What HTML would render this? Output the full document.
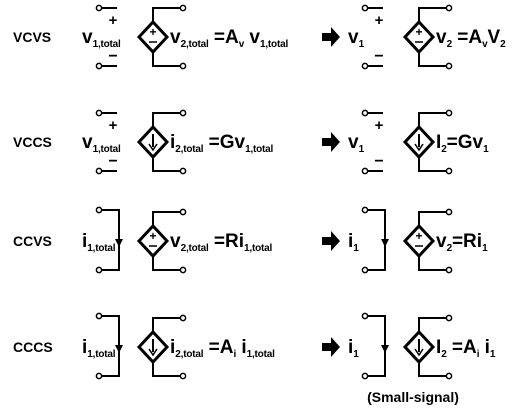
<!DOCTYPE html>
<html><head><meta charset="utf-8"><style>
body{margin:0;background:#fff}
svg{display:block;font-family:"Liberation Sans",Arial,sans-serif;font-weight:bold}
</style></head><body>
<svg id="s" width="528" height="410" viewBox="0 0 528 410"></svg>
<script>
const rowsY=[37,142,241,347];
const labels=['VCVS','VCCS','CCVS','CCCS'];
const ctrl=['v','v','i','i'];
const src=['v','i','v','i'];
const rightEq=[
 ['v','2',' =A','v','V','2'],
 ['I','2','=Gv','1','',''],
 ['v','2','=Ri','1','',''],
 ['I','2',' =A','i',' i','1']];
const leftEq=[
 ['v','2,total',' =A','v',' v','1,total'],
 ['i','2,total',' =Gv','1,total','',''],
 ['v','2,total',' =Ri','1,total','',''],
 ['i','2,total',' =A','i',' i','1,total']];
const s=document.getElementById('s');
const NS='http://www.w3.org/2000/svg';
function el(t,a,txt){const e=document.createElementNS(NS,t);for(const k in a)e.setAttribute(k,a[k]);if(txt!==undefined)e.textContent=txt;s.appendChild(e);return e;}
function line(d,name){const e=el('path',{d:d,stroke:'#000','stroke-width':2,fill:'none'});

}
function circ(x,y,name){const e=el('circle',{cx:x,cy:y,r:2.6,fill:'#fff',stroke:'#000','stroke-width':1.5});

}
function text(x,y,parts,name){
 const t=el('text',{x:x,y:y,'font-size':19});
 
 
 for(let i=0;i<parts.length;i++){if(!parts[i])continue;
  const sp=document.createElementNS(NS,'tspan');
  if(i%2){sp.setAttribute('font-size',10);sp.setAttribute('dy',4);sp.setAttribute('letter-spacing','-0.2');}else{sp.setAttribute('font-size',19);if(i>0)sp.setAttribute('dy',-4);}
  sp.textContent=parts[i];t.appendChild(sp);}
}
function diagram(ox,y,r,small){
 const cx=ox+153;
 if(ctrl[r]==='v'){
  circ(ox+99,y-29,'input-terminal-top');line(`M${ox+101.5} ${y-29}H${ox+117}`,'input-wire-top');
  circ(ox+99,y+29,'input-terminal-bottom');line(`M${ox+101.5} ${y+29}H${ox+117}`,'input-wire-bottom');
  const p=el('text',{x:ox+113,y:y-12,'font-size':15,'text-anchor':'middle'},'+');
  const m=el('text',{x:ox+113,y:y+24,'font-size':16,'text-anchor':'middle'},'\u2212');
 } else {
  circ(ox+99,y-31,'input-terminal-top');circ(ox+99,y+29,'input-terminal-bottom');
  line(`M${ox+101.5} ${y-31}H${ox+119}V${y+29}H${ox+101.5}`,'input-short-wire');
  const a=el('path',{d:`M${ox+115} ${y-2}L${ox+123} ${y-2}L${ox+119} ${y+6}Z`,fill:'#000'});
 }
 text(ox+82,y+6,small?[ctrl[r],'1']:[ctrl[r],'1,total'],'control-label');
 const d=el('path',{d:`M${cx} ${y-15}L${cx+14} ${y}L${cx} ${y+15}L${cx-14} ${y}Z`,fill:'#fff',stroke:'#000','stroke-width':3});
 
 line(`M${cx} ${y-15}V${y-29}H${ox+181}`,'output-wire-top');
 line(`M${cx} ${y+15}V${y+29}H${ox+181}`,'output-wire-bottom');
 circ(ox+183,y-29,'output-terminal-top');circ(ox+183,y+29,'output-terminal-bottom');
 if(src[r]==='v'){
  const p=el('text',{x:cx,y:y-1,'font-size':12,'text-anchor':'middle'},'+');
  const m=el('path',{d:`M${cx-4} ${y+5}H${cx+4}`,stroke:'#000','stroke-width':1.5});
 } else {
  line(`M${cx} ${y-8}V${y+5}`,'source-arrow-shaft');
  const a=el('path',{d:`M${cx-4} ${y+2}L${cx} ${y+8}L${cx+4} ${y+2}`,stroke:'#000','stroke-width':1.5,fill:'none'});
 }
 text(cx+17,y+6,small?rightEq[r]:leftEq[r],'source-equation');
}
rowsY.forEach((y,r)=>{
 const l=el('text',{x:13,y:y+5,'font-size':14},labels[r]);
 
 diagram(0,y,r,false);
 diagram(266,y,r,true);
 const a=el('path',{d:`M322 ${y-4}H331V${y-10}L340 ${y}L331 ${y+10}V${y+4}H322Z`,fill:'#000'});
 
});
const ss=el('text',{x:413,y:402,'font-size':14,'text-anchor':'middle'},'(Small-signal)');

</script>
</body></html>
